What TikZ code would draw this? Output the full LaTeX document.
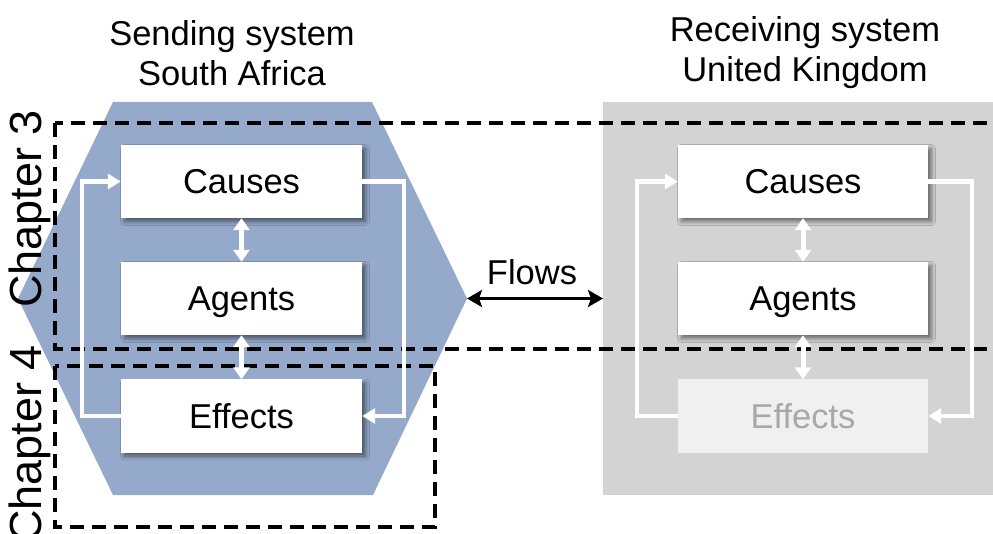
\documentclass[tikz,border=0pt]{standalone}
\usepackage{fontspec}
\setmainfont{Liberation Sans}
\usetikzlibrary{arrows.meta,shadows.blur}

\definecolor{sendblue}{HTML}{95A9CB}
\definecolor{recvgray}{HTML}{D3D3D3}
\definecolor{paleboxfill}{HTML}{F0F0F0}
\definecolor{paletext}{HTML}{A8A8A8}

\tikzset{
  labeltext/.style={font=\fontsize{34.5}{40}\selectfont, align=center, inner sep=0pt},
  chaptertext/.style={font=\fontsize{45}{50}\selectfont, rotate=90, inner sep=0pt},
  factorbox/.style={labeltext, fill=white, minimum height=73pt, inner sep=0pt,
      text height=24.7pt, text depth=0pt},
  shadowed/.style={blur shadow={shadow xshift=3.5pt, shadow yshift=-3.5pt,
      shadow blur steps=8, shadow blur radius=4pt, shadow opacity=50}},
  chapterframe/.style={draw=black, line width=3.2pt, dash pattern=on 14pt off 8pt},
  loopline/.style={draw=white, line width=4.5pt, -{Triangle[length=13pt,width=15pt]}},
  linkarrow/.style={draw=white, line width=5pt,
      {Triangle[length=12pt,width=16pt]}-{Triangle[length=12pt,width=16pt]}},
  flowarrow/.style={draw=black, line width=3.5pt,
      {Stealth[length=15pt,width=17pt,inset=3pt]}-{Stealth[length=15pt,width=17pt,inset=3pt]}},
}

\begin{document}
\begin{tikzpicture}[x=1pt,y=-1pt]
\useasboundingbox (0,0) rectangle (993,534);

% system backgrounds
\fill[sendblue] (113,102) -- (372,102) -- (467,298.5) -- (373,495) -- (113,495) -- (18,298.5) -- cycle;
\coordinate (hexR) at (467,298.5);
\fill[recvgray] (603,102) rectangle (1000,495);
\coordinate (grayL) at (603,298.5);

% chapter frames
\draw[chapterframe] (55,123) rectangle (1010,349);
\draw[chapterframe] (55,366) rectangle (435,527);

% titles
\node[labeltext] (sendtitle) at (232,53) {Sending system\\South Africa};
\node[labeltext] (recvtitle) at (805,53) {Receiving system\\United Kingdom};

% chapter labels
\node[chaptertext] (ch3) at (30,209) {Chapter 3};
\node[chaptertext] (ch4) at (30,444) {Chapter 4};

% sending side
\node[factorbox, shadowed, minimum width=241pt] (LC) at (241.5,181.5) {Causes};
\node[factorbox, shadowed, minimum width=241pt] (LA) at (241.5,298.5) {Agents};
\node[factorbox, shadowed, minimum width=241pt] (LE) at (241.5,416) {Effects};

% receiving side
\node[factorbox, shadowed, minimum width=250pt] (RC) at (803,181.5) {Causes};
\node[factorbox, shadowed, minimum width=250pt] (RA) at (803,298.5) {Agents};
\node[factorbox, minimum width=250pt, fill=paleboxfill, text=paletext] (RE) at (803,416) {Effects};

% feedback loops
\draw[loopline] (LC.east) -- ++(42,0) |- (LE.east);
\draw[loopline] (LE.west) -- ++(-39,0) |- (LC.west);
\draw[loopline] (RC.east) -- ++(44,0) |- (RE.east);
\draw[loopline] (RE.west) -- ++(-41,0) |- (RC.west);

% links between factors
\draw[linkarrow] (LC.south) -- (LA.north);
\draw[linkarrow] (LA.south) -- (LE.north);
\draw[linkarrow] (RC.south) -- (RA.north);
\draw[linkarrow] (RA.south) -- (RE.north);

% flows between systems
\draw[flowarrow] (hexR) -- (grayL);
\node[labeltext] (flows) at (532,272) {Flows};
\end{tikzpicture}
\end{document}
